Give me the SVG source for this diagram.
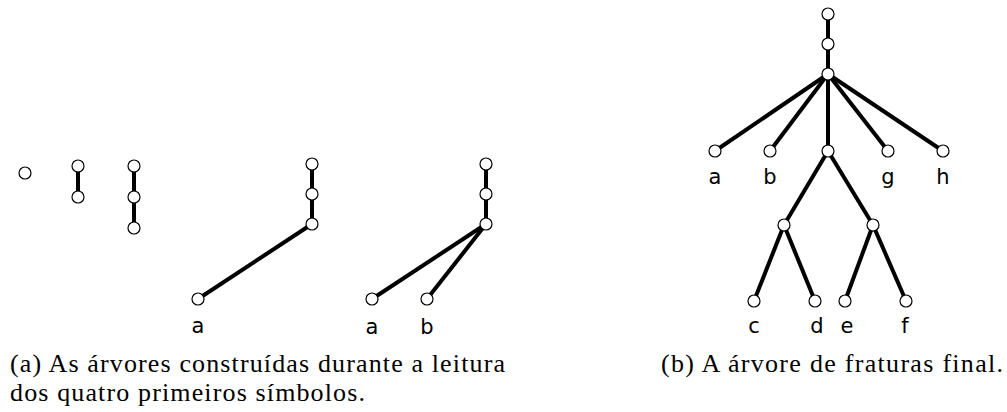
<svg xmlns="http://www.w3.org/2000/svg" width="1007" height="412" viewBox="0 0 1007 412">
<style>
.e{stroke:#000;stroke-width:4;fill:none;stroke-linecap:butt}
.n{fill:#fff;stroke:#000;stroke-width:1.2}
.l{font-family:"DejaVu Sans",sans-serif;font-size:21px;fill:#000;text-anchor:middle}
.c{font-family:"Liberation Serif","DejaVu Serif",serif;font-size:26px;fill:#000}
</style>
<rect width="1007" height="412" fill="#fff"/>
<g id="connectors">
<line class="e" x1="78" y1="166" x2="78" y2="197"/>
<line class="e" x1="134" y1="166" x2="134" y2="197"/>
<line class="e" x1="134" y1="197" x2="134" y2="228"/>
<line class="e" x1="312" y1="164" x2="312" y2="194"/>
<line class="e" x1="312" y1="194" x2="312" y2="224"/>
<line class="e" x1="312" y1="224" x2="198" y2="299"/>
<line class="e" x1="486" y1="164" x2="486" y2="194"/>
<line class="e" x1="486" y1="194" x2="486" y2="224"/>
<line class="e" x1="486" y1="224" x2="372" y2="299"/>
<line class="e" x1="486" y1="224" x2="427" y2="299"/>
<line class="e" x1="828" y1="14" x2="828" y2="44"/>
<line class="e" x1="828" y1="44" x2="828" y2="74"/>
<line class="e" x1="828" y1="74" x2="715" y2="151"/>
<line class="e" x1="828" y1="74" x2="770" y2="151"/>
<line class="e" x1="828" y1="74" x2="828" y2="151"/>
<line class="e" x1="828" y1="74" x2="888" y2="151"/>
<line class="e" x1="828" y1="74" x2="943" y2="151"/>
<line class="e" x1="828" y1="151" x2="784" y2="225"/>
<line class="e" x1="828" y1="151" x2="873" y2="225"/>
<line class="e" x1="784" y1="225" x2="754" y2="301"/>
<line class="e" x1="784" y1="225" x2="815" y2="301"/>
<line class="e" x1="873" y1="225" x2="845" y2="301"/>
<line class="e" x1="873" y1="225" x2="906" y2="301"/>
</g>
<g id="t1"><circle class="n" cx="25" cy="173" r="6"/></g>
<g id="t2a"><circle class="n" cx="78" cy="166" r="6"/></g>
<g id="t2b"><circle class="n" cx="78" cy="197" r="6"/></g>
<g id="t3a"><circle class="n" cx="134" cy="166" r="6"/></g>
<g id="t3b"><circle class="n" cx="134" cy="197" r="6"/></g>
<g id="t3c"><circle class="n" cx="134" cy="228" r="6"/></g>
<g id="t4a"><circle class="n" cx="312" cy="164" r="6"/></g>
<g id="t4b"><circle class="n" cx="312" cy="194" r="6"/></g>
<g id="t4c"><circle class="n" cx="312" cy="224" r="6"/></g>
<g id="t4leafa"><circle class="n" cx="198" cy="299" r="6"/><text class="l" x="198" y="333">a</text></g>
<g id="t5a"><circle class="n" cx="486" cy="164" r="6"/></g>
<g id="t5b"><circle class="n" cx="486" cy="194" r="6"/></g>
<g id="t5c"><circle class="n" cx="486" cy="224" r="6"/></g>
<g id="t5leafa"><circle class="n" cx="372" cy="299" r="6"/><text class="l" x="372" y="334">a</text></g>
<g id="t5leafb"><circle class="n" cx="427" cy="299" r="6"/><text class="l" x="427" y="334">b</text></g>
<g id="fr1"><circle class="n" cx="828" cy="14" r="6"/></g>
<g id="fr2"><circle class="n" cx="828" cy="44" r="6"/></g>
<g id="fr3"><circle class="n" cx="828" cy="74" r="6"/></g>
<g id="fa"><circle class="n" cx="715" cy="151" r="6"/><text class="l" x="715" y="184">a</text></g>
<g id="fb"><circle class="n" cx="770" cy="151" r="6"/><text class="l" x="770" y="184">b</text></g>
<g id="fm"><circle class="n" cx="828" cy="151" r="6"/></g>
<g id="fg"><circle class="n" cx="888" cy="151" r="6"/><text class="l" x="888" y="184">g</text></g>
<g id="fh"><circle class="n" cx="943" cy="151" r="6"/><text class="l" x="943" y="184">h</text></g>
<g id="fl"><circle class="n" cx="784" cy="225" r="6"/></g>
<g id="fr"><circle class="n" cx="873" cy="225" r="6"/></g>
<g id="fc"><circle class="n" cx="754" cy="301" r="6"/><text class="l" x="754" y="333">c</text></g>
<g id="fd"><circle class="n" cx="815" cy="301" r="6"/><text class="l" x="817" y="333">d</text></g>
<g id="fe"><circle class="n" cx="845" cy="301" r="6"/><text class="l" x="847" y="333">e</text></g>
<g id="ff"><circle class="n" cx="906" cy="301" r="6"/><text class="l" x="905" y="333">f</text></g>
<g id="captions">
<text class="c" x="10" y="372" textLength="495" lengthAdjust="spacing">(a) As árvores construídas durante a leitura</text>
<text class="c" x="10" y="401" textLength="355" lengthAdjust="spacing">dos quatro primeiros símbolos.</text>
<text class="c" x="661" y="372" textLength="342" lengthAdjust="spacing">(b) A árvore de fraturas final.</text>
</g>
</svg>
